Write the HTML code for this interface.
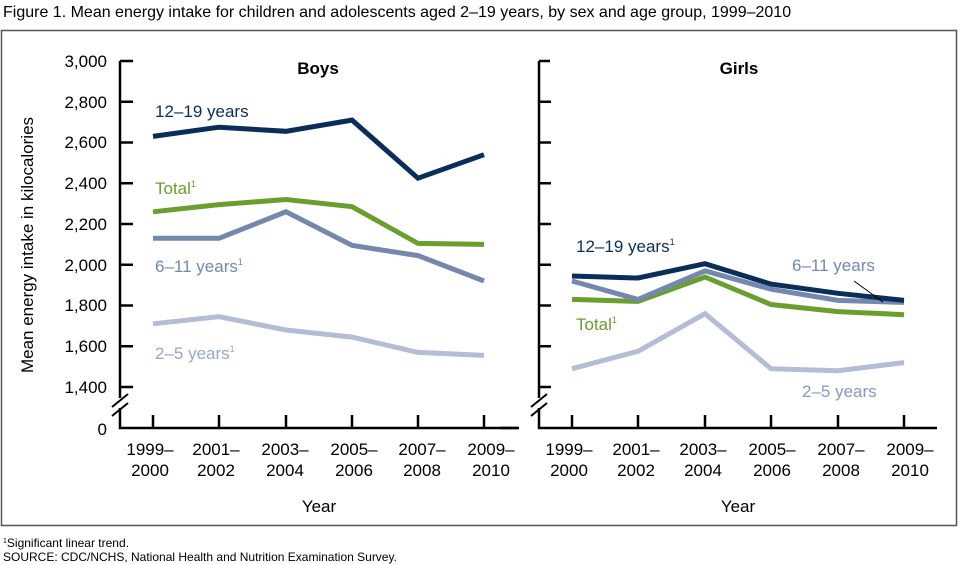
<!DOCTYPE html><html><head><style>body{margin:0;background:#fff}svg{display:block;font-family:"Liberation Sans",Arial,sans-serif}</style></head><body>
<svg width="960" height="565" viewBox="0 0 960 565">
<text x="3" y="17" font-size="16">Figure 1. Mean energy intake for children and adolescents aged 2–19 years, by sex and age group, 1999–2010</text>
<rect x="1.5" y="30.5" width="955" height="495" fill="none" stroke="#555" stroke-width="1.5"/>
<g stroke="#000" stroke-width="2.5" fill="none">
<path d="M120 61 H133 M120 101.75 H133 M120 142.5 H133 M120 183.25 H133 M120 224 H133 M120 264.75 H133 M120 305.5 H133 M120 346.25 H133 M120 387 H133"/>
<path d="M120 61 V398 M120 408 V428 H518"/>
<path d="M112 407 L128 394 M112 416 L128 403" stroke-width="2"/>
<path d="M153 428V415 M219 428V415 M286 428V415 M352 428V415 M418 428V415 M484 428V415"/>
<path d="M539 61 H550 M539 101.75 H551 M539 142.5 H551 M539 183.25 H551 M539 224 H551 M539 264.75 H551 M539 305.5 H551 M539 346.25 H551 M539 387 H551"/>
<path d="M539 61 V398 M539 408 V428 H937 M500 428 H519"/>
<path d="M531 407 L547 394 M531 416 L547 403" stroke-width="2"/>
<path d="M572 428V415 M638 428V415 M705 428V415 M771 428V415 M838 428V415 M904 428V415"/>
</g>
<g font-size="17" text-anchor="end">
<text x="107" y="67">3,000</text><text x="107" y="108">2,800</text><text x="107" y="148">2,600</text><text x="107" y="189">2,400</text><text x="107" y="230">2,200</text><text x="107" y="271">2,000</text><text x="107" y="311">1,800</text><text x="107" y="352">1,600</text><text x="107" y="393">1,400</text><text x="107" y="435">0</text>
</g>
<text transform="translate(33 245) rotate(-90)" font-size="17" text-anchor="middle">Mean energy intake in kilocalories</text>
<g font-size="17" text-anchor="middle">
<text x="150" y="455">1999–</text><text x="150" y="476">2000</text>
<text x="216" y="455">2001–</text><text x="216" y="476">2002</text>
<text x="285" y="455">2003–</text><text x="285" y="476">2004</text>
<text x="354" y="455">2005–</text><text x="354" y="476">2006</text>
<text x="422" y="455">2007–</text><text x="422" y="476">2008</text>
<text x="491" y="455">2009–</text><text x="491" y="476">2010</text>
<text x="569" y="455">1999–</text><text x="569" y="476">2000</text>
<text x="636" y="455">2001–</text><text x="636" y="476">2002</text>
<text x="703" y="455">2003–</text><text x="703" y="476">2004</text>
<text x="772" y="455">2005–</text><text x="772" y="476">2006</text>
<text x="841" y="455">2007–</text><text x="841" y="476">2008</text>
<text x="910" y="455">2009–</text><text x="910" y="476">2010</text>
<text x="319" y="512">Year</text><text x="738" y="512">Year</text>
<text x="318" y="74" font-weight="bold">Boys</text><text x="739" y="74" font-weight="bold">Girls</text>
</g>
<g fill="none" stroke-width="5" stroke-linejoin="miter">
<polyline stroke="#b4bcd6" points="153,323.8 219,316.7 286,330 352,337.1 418,352.4 484,355.4"/>
<polyline stroke="#7487ad" points="153,238.3 219,238.3 286,211.8 352,245.4 418,255.6 484,281"/>
<polyline stroke="#6a9e2f" points="153,211.8 219,204.6 286,199.5 352,206.7 418,243.4 484,244.4"/>
<polyline stroke="#0a2d5a" points="153,136.4 219,127.2 286,131.3 352,120.1 418,178.2 484,154.7"/>
<polyline stroke="#b4bcd6" points="572,368.7 638,351.3 705,313.7 771,368.7 838,370.7 904,362.6"/>
<polyline stroke="#6a9e2f" points="572,299.4 638,301.4 705,277 771,304.5 838,311.6 904,314.7"/>
<polyline stroke="#7487ad" points="572,281 638,299.4 705,270.9 771,289.2 838,300.4 904,302.4"/>
<polyline stroke="#0a2d5a" points="572,276 638,278 705,263.7 771,284.1 838,293.3 904,300.4"/>
</g>
<path d="M854 281 L883 302" stroke="#000" stroke-width="1"/>
<g font-size="17">
<text x="155" y="117" fill="#0a2d5a">12–19 years</text>
<text x="155" y="194" fill="#6a9e2f">Total<tspan font-size="9" dy="-7">1</tspan></text>
<text x="155" y="272" fill="#7487ad">6–11 years<tspan font-size="9" dy="-7">1</tspan></text>
<text x="155" y="359" fill="#9aa5c8">2–5 years<tspan font-size="9" dy="-7">1</tspan></text>
<text x="576" y="252" fill="#0a2d5a">12–19 years<tspan font-size="9" dy="-7">1</tspan></text>
<text x="792" y="271" fill="#7487ad">6–11 years</text>
<text x="576" y="330" fill="#6a9e2f">Total<tspan font-size="9" dy="-7">1</tspan></text>
<text x="802" y="397" fill="#8a97bf">2–5 years</text>
</g>
<text x="3" y="547" font-size="12"><tspan font-size="7" dy="-4">1</tspan><tspan dy="4">Significant linear trend.</tspan></text>
<text x="3" y="561" font-size="12">SOURCE: CDC/NCHS, National Health and Nutrition Examination Survey.</text>
</svg>
</body></html>
